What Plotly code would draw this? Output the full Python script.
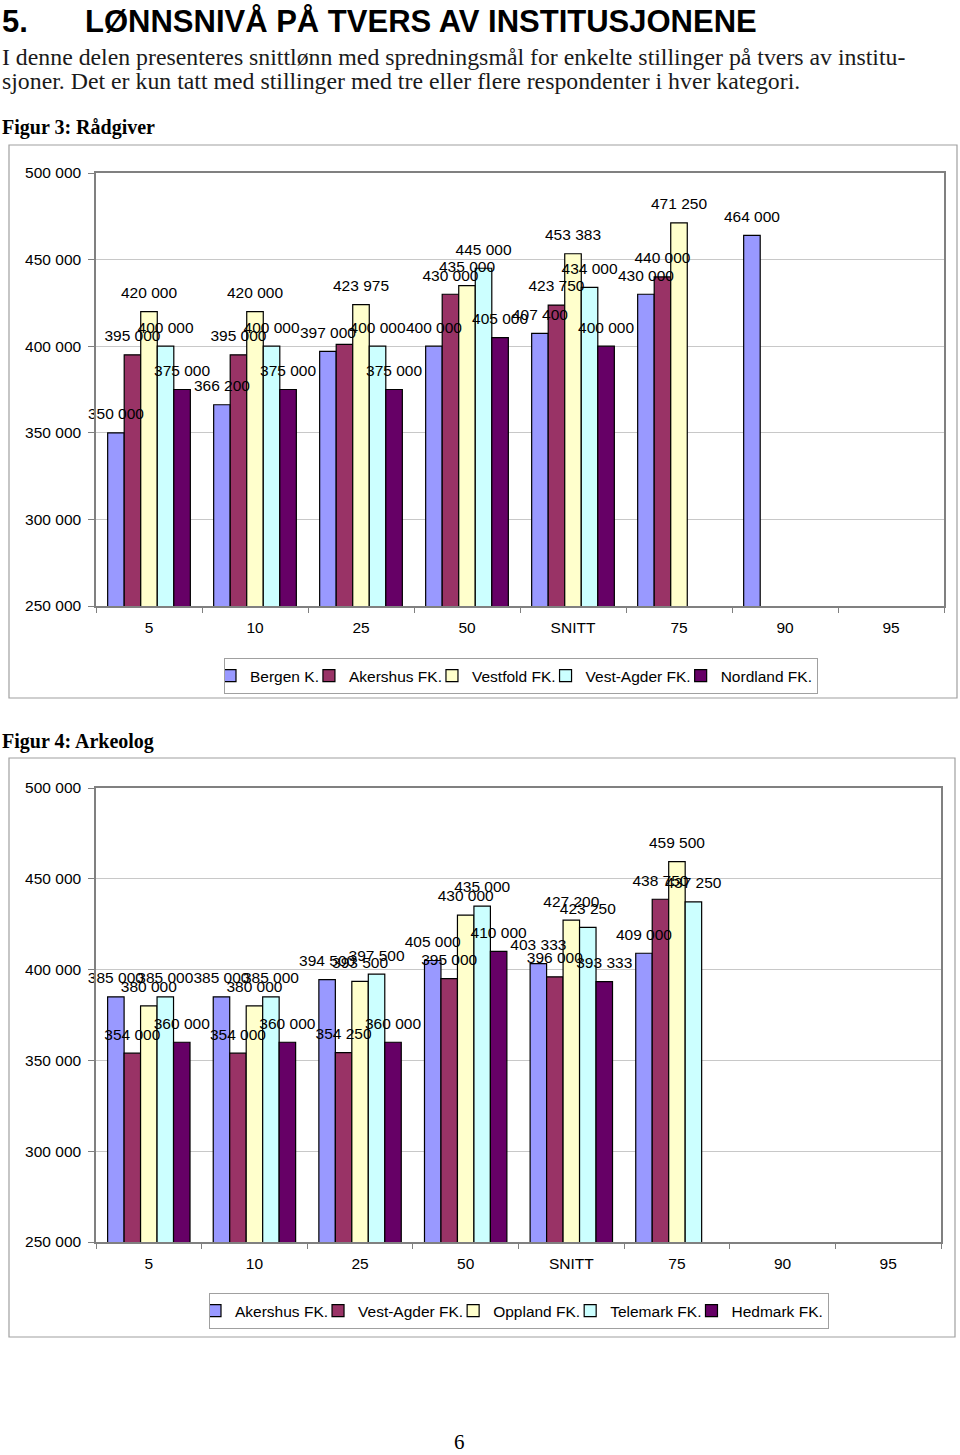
import plotly.graph_objects as go

# ---------------- data ----------------
categories = ["5", "10", "25", "50", "SNITT", "75", "90", "95"]

fig3_series = ["Bergen K.", "Akershus FK.", "Vestfold FK.", "Vest-Agder FK.", "Nordland FK."]
fig3_bergen = [350000, 366200, 397000, 400000, 407400, 430000, 464000, None]
fig3_akershus = [395000, 395000, 401000, 430000, 423750, 440000, None, None]
fig3_vestfold = [420000, 420000, 423975, 435000, 453383, 471250, None, None]
fig3_vestagder = [400000, 400000, 400000, 445000, 434000, None, None, None]
fig3_nordland = [375000, 375000, 375000, 405000, 400000, None, None, None]
fig3_values = [fig3_bergen, fig3_akershus, fig3_vestfold, fig3_vestagder, fig3_nordland]
fig3_unlabeled = [("Akershus FK.", "25")]

fig4_series = ["Akershus FK.", "Vest-Agder FK.", "Oppland FK.", "Telemark FK.", "Hedmark FK."]
fig4_akershus = [385000, 385000, 394500, 405000, 403333, 409000, None, None]
fig4_vestagder = [354000, 354000, 354250, 395000, 396000, 438750, None, None]
fig4_oppland = [380000, 380000, 393500, 430000, 427200, 459500, None, None]
fig4_telemark = [385000, 385000, 397500, 435000, 423250, 437250, None, None]
fig4_hedmark = [360000, 360000, 360000, 410000, 393333, None, None, None]
fig4_values = [fig4_akershus, fig4_vestagder, fig4_oppland, fig4_telemark, fig4_hedmark]
fig4_unlabeled = []

y_ticks = [250000, 300000, 350000, 400000, 450000, 500000]

colors = ["#9999FF", "#993366", "#FFFFCC", "#CCFFFF", "#660066"]

# ---------------- layout helpers ----------------
W, H = 960, 1455
def px(x):
    return x / W
def py(y):
    return 1 - y / H

FONT = "Liberation Sans"
SERIF = "Liberation Serif"
FS = 15.5

def fmt(v):
    return f"{v:,}".replace(",", " ")

fig = go.Figure()

def add_chart(names, values, unlabeled, xa, ya, legend):
    for name, vals, col in zip(names, values, colors):
        fig.add_trace(go.Bar(
            x=categories, y=vals, name=name, marker=dict(color=col, line=dict(color="black", width=1.2)),
            xaxis=xa, yaxis=ya, legend=legend, hoverinfo="skip",
        ))
    for name, vals in zip(names, values):
        texts = []
        for c, v in zip(categories, vals):
            if v is None or (name, c) in unlabeled:
                texts.append("")
            else:
                texts.append(fmt(v))
        fig.add_trace(go.Scatter(
            x=categories, y=vals, text=texts, mode="markers+text", textposition="top center",
            marker=dict(size=14, opacity=0), textfont=dict(family=FONT, size=FS, color="black"),
            xaxis=xa, yaxis=ya, showlegend=False, hoverinfo="skip", cliponaxis=False,
        ))

add_chart(fig3_series, fig3_values, fig3_unlabeled, "x", "y", "legend")
add_chart(fig4_series, fig4_values, fig4_unlabeled, "x2", "y2", "legend2")

axis_common = dict(showline=True, mirror=True, linecolor="#808080", linewidth=1.5)
xcommon = dict(type="category", categoryorder="array", categoryarray=categories, range=[-0.5, 7.5],
               tickson="boundaries", ticks="outside", ticklen=5, tickcolor="#808080",
               tickfont=dict(family=FONT, size=FS, color="black"), showgrid=False,
               ticklabelstandoff=7, fixedrange=True, automargin=False, **axis_common)
ycommon = dict(range=[250000, 500000], tickvals=y_ticks, tickformat=",d", ticks="outside", ticklen=6,
               tickcolor="#808080", tickfont=dict(family=FONT, size=FS, color="black"),
               showgrid=True, gridcolor="#c8c8c8", gridwidth=1, zeroline=False,
               ticklabelstandoff=4, fixedrange=True, automargin=False, **axis_common)

legend_common = dict(orientation="h", xanchor="center", yanchor="middle", bgcolor="white",
                     bordercolor="#a0a0a0", borderwidth=1, font=dict(family=FONT, size=FS, color="black"),
                     itemwidth=30, indentation=-15, traceorder="normal")

fig.update_layout(
    width=W, height=H, margin=dict(l=0, r=0, t=0, b=0, pad=0), autosize=False,
    paper_bgcolor="white", plot_bgcolor="white",
    separators=", ",
    barmode="group", bargap=0.22, bargroupgap=0,
    scattermode="group", scattergap=0.22,
    xaxis=dict(domain=[px(96), px(944)], anchor="y", **xcommon),
    yaxis=dict(domain=[py(606), py(173)], anchor="x", **ycommon),
    xaxis2=dict(domain=[px(96), px(941)], anchor="y2", **xcommon),
    yaxis2=dict(domain=[py(1242), py(788)], anchor="x2", **ycommon),
    legend=dict(x=px(521), y=py(676), **legend_common),
    legend2=dict(x=px(519), y=py(1311), **legend_common),
    showlegend=True,
)

# outer chart frames
for (x0, y0, x1, y1) in [(9, 145, 957, 698), (9, 758, 955, 1337)]:
    fig.add_shape(type="rect", xref="paper", yref="paper", x0=px(x0), x1=px(x1), y0=py(y0), y1=py(y1),
                  line=dict(color="#a0a0a0", width=1.2), fillcolor="rgba(0,0,0,0)", layer="below")

def note(text, x, y, size, family, bold=False, xanchor="left", yanchor="middle", color="black", yshift=0):
    if bold:
        text = f"<b>{text}</b>"
    fig.add_annotation(text=text, x=px(x), y=py(y), xref="paper", yref="paper", showarrow=False,
                       xanchor=xanchor, yanchor=yanchor, borderpad=0, yshift=yshift,
                       font=dict(family=family, size=size, color=color))

note("5.", 1, 0, 31, FONT, bold=True, yanchor="top", yshift=-3)
note("LØNNSNIVÅ PÅ TVERS AV INSTITUSJONENE", 84, 0, 31, FONT, bold=True, yanchor="top", yshift=-3)
note("I denne delen presenteres snittlønn med spredningsmål for enkelte stillinger på tvers av institu-",
     1, 57, 23.8, SERIF, color="#1a1a1a")
note("sjoner. Det er kun tatt med stillinger med tre eller flere respondenter i hver kategori.",
     1, 81, 23.8, SERIF, color="#1a1a1a")
note("Figur 3: Rådgiver", 1, 127, 20, SERIF, bold=True)
note("Figur 4: Arkeolog", 1, 741, 20, SERIF, bold=True)
note("6", 459, 1455, 21, SERIF, xanchor="center", yanchor="bottom")

fig.write_html("out.html", config={"displayModeBar": False},
               post_script="document.body.style.margin='0';")
